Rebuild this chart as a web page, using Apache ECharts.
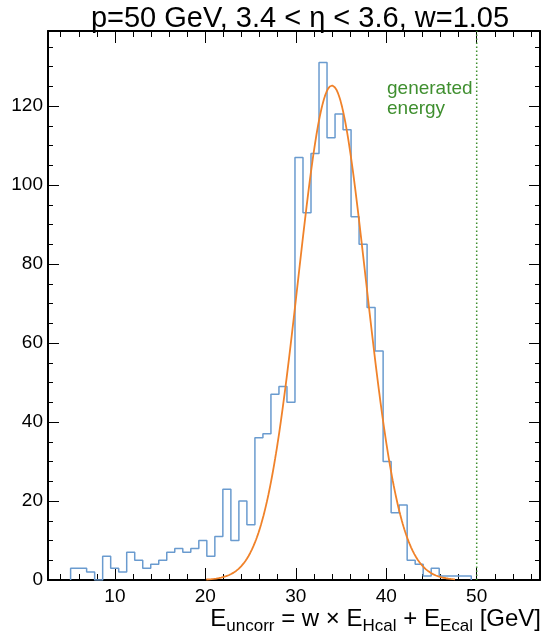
<!DOCTYPE html>
<html>
<head>
<meta charset="utf-8">
<script src="https://cdn.jsdelivr.net/npm/echarts@6/dist/echarts.min.js"></script>
<style>
  html, body { margin: 0; padding: 0; background: #ffffff; }
  #chart { width: 545px; height: 636px; }
</style>
</head>
<body>
<div id="chart"></div>
<script>
// Energy-sum histogram: equal-width bins starting at binStart
const binStart = 5.1;
const binWidth = 0.886;
const counts = [
  3, 3, 2, 0, 6, 3, 2, 7, 5, 3,
  4, 5, 7, 8, 7, 8, 10, 6, 11, 23,
  10, 20, 14, 36, 37, 47, 49, 45, 107, 93,
  108, 131, 112, 118, 114, 92, 85, 69, 58, 30,
  17, 19, 5, 4, 1, 3, 1, 1, 1, 1
];

// Gaussian fit parameters
const fitAmp = 125.2;
const fitMean = 34.0;
const fitSigma = 3.75;
const fitRange = [20.1, 47.6];

// Generated (true) beam energy
const generatedEnergy = 50;

// Axis ranges and tick positions
const xRange = [2.6, 57.0];
const yRange = [0, 139];
const xMajor = [10, 20, 30, 40, 50];
const xMinor = [4, 6, 8, 12, 14, 16, 18, 22, 24, 26, 28, 32, 34, 36, 38, 42, 44, 46, 48, 52, 54, 56];
const yMajor = [0, 20, 40, 60, 80, 100, 120];
const yMinor = [5, 10, 15, 25, 30, 35, 45, 50, 55, 65, 70, 75, 85, 90, 95, 105, 110, 115, 125, 130, 135];

// Outline of the histogram as a step path through the bin edges
const histPath = [[binStart, 0]];
counts.forEach((c, i) => {
  const lo = binStart + i * binWidth;
  const hi = lo + binWidth;
  histPath.push([lo, c], [hi, c]);
});
histPath.push([binStart + counts.length * binWidth, 0]);

// Fitted Gaussian sampled over the fit range
const fitPath = [];
const nFit = 300;
for (let k = 0; k <= nFit; k++) {
  const x = fitRange[0] + (fitRange[1] - fitRange[0]) * k / nFit;
  const d = (x - fitMean) / fitSigma;
  fitPath.push([x, fitAmp * Math.exp(-0.5 * d * d)]);
}

const FONT = '"Liberation Sans", Arial, Helvetica, sans-serif';
const black = '#000000';
const green = '#3f8f2f';

function xAxisDef(position, ticks, len, withLine, withLabels) {
  return {
    type: 'value', position: position, min: xRange[0], max: xRange[1],
    axisLine: { show: withLine, onZero: false, lineStyle: { color: black, width: 2 } },
    axisTick: { show: true, inside: true, length: len, customValues: ticks, lineStyle: { color: black, width: 1 } },
    axisLabel: withLabels ? { show: true, customValues: ticks, margin: 7, fontSize: 19, fontFamily: FONT, color: black } : { show: false },
    splitLine: { show: false }
  };
}
function yAxisDef(position, ticks, len, withLine, withLabels) {
  return {
    type: 'value', position: position, min: yRange[0], max: yRange[1],
    axisLine: { show: withLine, onZero: false, lineStyle: { color: black, width: 2 } },
    axisTick: { show: true, inside: true, length: len, customValues: ticks, lineStyle: { color: black, width: 1 } },
    axisLabel: withLabels ? { show: true, customValues: ticks, margin: 5, fontSize: 19, fontFamily: FONT, color: black } : { show: false },
    splitLine: { show: false }
  };
}

const chart = echarts.init(document.getElementById('chart'), null, { renderer: 'canvas' });
chart.setOption({
  animation: false,
  backgroundColor: '#ffffff',
  title: {
    text: 'p=50 GeV, 3.4 < \u03B7 < 3.6, w=1.05',
    left: 295, top: -1, textAlign: 'center',
    textStyle: { fontFamily: FONT, fontSize: 29, fontWeight: 'normal', color: black }
  },
  grid: { left: 48, right: 5, top: 31, bottom: 56 },
  xAxis: [
    xAxisDef('bottom', xMajor, 12, true, true),
    xAxisDef('bottom', xMinor, 6, false, false),
    xAxisDef('top', xMajor, 12, true, false),
    xAxisDef('top', xMinor, 6, false, false)
  ],
  yAxis: [
    yAxisDef('left', yMajor, 11, true, true),
    yAxisDef('left', yMinor, 5, false, false),
    yAxisDef('right', yMajor, 11, true, false),
    yAxisDef('right', yMinor, 5, false, false)
  ],
  series: [
    {
      type: 'line', name: 'data', data: histPath, showSymbol: false,
      lineStyle: { color: '#6a9bcf', width: 1.5 }, z: 3
    },
    {
      type: 'line', name: 'fit', data: fitPath, showSymbol: false,
      lineStyle: { color: '#f0822a', width: 1.8 }, z: 4
    },
    {
      type: 'line', name: 'generated', data: [[generatedEnergy, yRange[0]], [generatedEnergy, yRange[1]]],
      showSymbol: false, lineStyle: { color: green, width: 1.5, type: [1.5, 2.5] }, z: 2
    }
  ],
  graphic: [
    {
      type: 'text', left: 387, top: 79,
      style: { text: 'generated\nenergy', fontFamily: FONT, fontSize: 19, lineHeight: 20, fill: green }
    },
    {
      type: 'text', right: 4, top: 607,
      style: {
        text: '{m|E}{s|uncorr}{m| = w \u00D7 E}{s|Hcal}{m| + E}{s|Ecal}{m| [GeV]}',
        fill: black,
        rich: {
          m: { fontFamily: FONT, fontSize: 24, lineHeight: 27, verticalAlign: 'top', fill: black },
          s: { fontFamily: FONT, fontSize: 17, lineHeight: 17, padding: [11, 0, 0, 0], verticalAlign: 'top', fill: black }
        }
      }
    }
  ]
});
</script>
</body>
</html>
